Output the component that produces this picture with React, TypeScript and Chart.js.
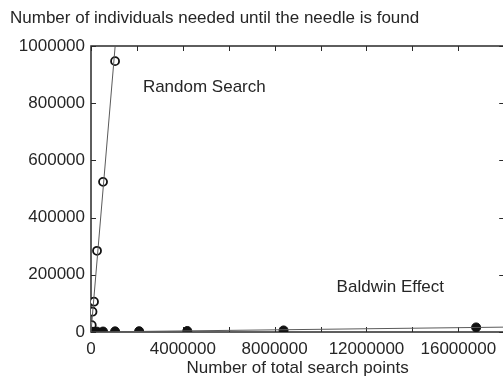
import React, { useEffect, useRef } from "react";
import { Chart, registerables } from "chart.js";

Chart.register(...registerables);

// ---- data ----
const randomX = [16384, 32768, 65536, 131072, 262144, 524288, 1048576];
const randomY = [8000, 24000, 71000, 106000, 284000, 525000, 947000];
const baldwinX = [16384, 32768, 65536, 131072, 262144, 524288, 1048576, 2097152, 4194304, 8388608, 16777216];
const baldwinY = [300, 400, 600, 800, 1200, 1600, 2200, 2800, 3500, 5500, 16000];
const randomFitX = [0, 1052632];
const randomFitY = [0, 1000000];
const baldwinFitX = [0, 18000000];
const baldwinFitY = [0, 17000];
const xTickLabels = [0, 4000000, 8000000, 12000000, 16000000];
const xMinorTicks = [2000000, 6000000, 10000000, 14000000];
const yTickLabels = [0, 200000, 400000, 600000, 800000, 1000000];
const annotationTexts = ["Random Search", "Baldwin Effect"];
const annotationX = [2260000, 10700000];
const annotationY = [857000, 157000];

const TEXT = "#262626";
const AXIS = "#2a2a2a";
const LINE = "#5a5a5a";
const FONT = "'Liberation Sans', Arial, sans-serif";

const toPts = (xs: number[], ys: number[]) => xs.map((x, i) => ({ x, y: ys[i] }));

const framePlugin = {
  id: "frame",
  beforeDatasetsDraw(chart: any) {
    const { ctx, chartArea } = chart;
    const xs = chart.scales.x;
    const ys = chart.scales.y;
    const { left, right, top, bottom } = chartArea;
    ctx.save();
    ctx.strokeStyle = AXIS;
    ctx.lineWidth = 1.5;
    ctx.strokeRect(left, top, right - left, bottom - top);
    ctx.lineWidth = 1;
    const tl = 5;
    [...xTickLabels, ...xMinorTicks].forEach((v) => {
      const px = Math.round(xs.getPixelForValue(v)) + 0.5;
      ctx.beginPath();
      ctx.moveTo(px, bottom);
      ctx.lineTo(px, bottom - tl);
      ctx.moveTo(px, top);
      ctx.lineTo(px, top + tl);
      ctx.stroke();
    });
    yTickLabels.forEach((v) => {
      const py = Math.round(ys.getPixelForValue(v)) + 0.5;
      ctx.beginPath();
      ctx.moveTo(left, py);
      ctx.lineTo(left + tl, py);
      ctx.moveTo(right, py);
      ctx.lineTo(right - tl, py);
      ctx.stroke();
    });
    ctx.fillStyle = TEXT;
    ctx.font = `17px ${FONT}`;
    ctx.textBaseline = "middle";
    ctx.textAlign = "left";
    annotationTexts.forEach((t, i) => {
      ctx.fillText(t, xs.getPixelForValue(annotationX[i]), ys.getPixelForValue(annotationY[i]));
    });
    ctx.restore();
  },
};

export default function App() {
  const ref = useRef<HTMLCanvasElement>(null);
  useEffect(() => {
    if (!ref.current) return;
    const chart = new Chart(ref.current, {
      type: "scatter",
      data: {
        datasets: [
          {
            label: "Random fit",
            data: toPts(randomFitX, randomFitY),
            showLine: true,
            borderColor: LINE,
            borderWidth: 1,
            pointRadius: 0,
          },
          {
            label: "Baldwin fit",
            data: toPts(baldwinFitX, baldwinFitY),
            showLine: true,
            borderColor: LINE,
            borderWidth: 1,
            pointRadius: 0,
          },
          {
            label: "Baldwin Effect",
            data: toPts(baldwinX, baldwinY),
            showLine: false,
            pointRadius: 4.5,
            pointBackgroundColor: "#111111",
            pointBorderColor: "#111111",
            pointBorderWidth: 1,
          },
          {
            label: "Random Search",
            data: toPts(randomX, randomY),
            showLine: false,
            pointRadius: 4,
            pointBackgroundColor: "#ffffff",
            pointBorderColor: "#111111",
            pointBorderWidth: 1.8,
          },
        ],
      },
      options: {
        responsive: false,
        animation: false,
        layout: { padding: { left: 10, right: 5, top: 0, bottom: 0 } },
        plugins: {
          legend: { display: false },
          tooltip: { enabled: false },
          title: {
            display: true,
            text: "Number of individuals needed until the needle is found",
            align: "start",
            color: TEXT,
            font: { family: FONT, size: 17, weight: "normal" },
            padding: { top: 8, bottom: 17.6 },
          },
        },
        scales: {
          x: {
            type: "linear",
            min: 0,
            max: 18000000,
            grid: { display: false, drawTicks: false },
            border: { display: false },
            afterBuildTicks: (s: any) => {
              s.ticks = xTickLabels.map((v) => ({ value: v }));
            },
            afterFit: (s: any) => {
              s.height = 45;
            },
            ticks: {
              color: TEXT,
              font: { family: FONT, size: 17 },
              padding: 7,
              maxRotation: 0,
              autoSkip: false,
              callback: (v: any) => String(v),
            },
            title: {
              display: true,
              text: "Number of total search points",
              color: TEXT,
              font: { family: FONT, size: 17, lineHeight: 1 },
              padding: { top: 0, bottom: 0 },
            },
          },
          y: {
            type: "linear",
            min: 0,
            max: 1000000,
            grid: { display: false, drawTicks: false },
            border: { display: false },
            afterBuildTicks: (s: any) => {
              s.ticks = yTickLabels.map((v) => ({ value: v }));
            },
            afterFit: (s: any) => {
              s.width = 81;
            },
            ticks: {
              color: TEXT,
              font: { family: FONT, size: 17 },
              padding: 6,
              callback: (v: any) => String(v),
            },
          },
        },
      },
      plugins: [framePlugin],
    });
    return () => chart.destroy();
  }, []);
  return (
    <canvas
      ref={ref}
      width={510}
      height={377}
      style={{ position: "fixed", left: 0, top: 0, display: "block" }}
    />
  );
}
